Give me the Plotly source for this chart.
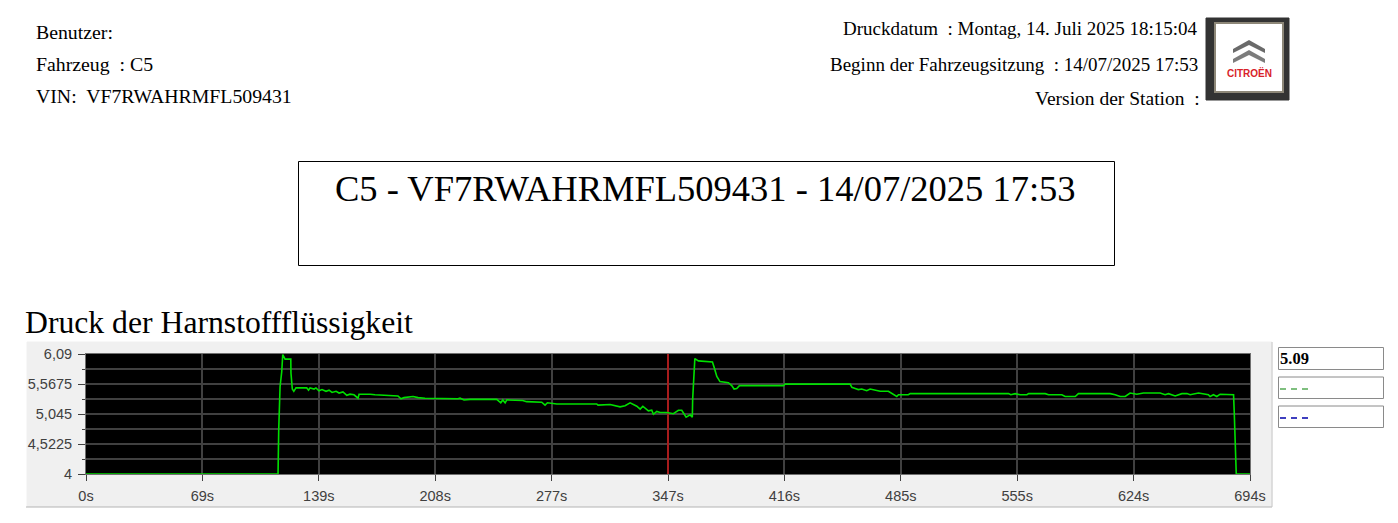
import plotly.graph_objects as go

# page body keeps its 8px margin, so the drawing area is the window minus 16
W = 1382
H = 507
OFF = 8

# pressure curve
time_s = [0, 114.5, 114.9, 115.7, 116.7, 117.3, 118.7, 122.1, 122.2, 123, 123.9, 125.2, 131.6, 132.7, 133.6, 136, 137.1,
          138.9, 140.7, 143.1, 144.9, 146.7, 149.1, 150.9, 153.2, 155.5, 157.4, 159.8, 162.2, 162.8, 169.4, 172.3,
          186, 187.8, 189.6, 195, 198, 202.1, 221.8, 223, 225.4, 229, 244.9, 247.3, 248.5, 249.9, 250.9, 260.4,
          262.7, 271.7, 273.7, 275.1, 280.7, 296.5, 304.5, 305.3, 312.5, 318.4, 321.4, 324.4, 328.4, 330.4, 332,
          335.3, 337.3, 338.3, 340.3, 342.3, 346.3, 350.2, 353.2, 355.2, 357.8, 360.2, 361.5, 361.7, 362.5, 363,
          365.1, 369.1, 373.5, 374.5, 376.1, 378, 383, 385, 386.4, 388, 389.6, 415.8, 416.8, 455.6, 456.6, 458.6,
          460.5, 462.5, 465.5, 467.5, 473.5, 478.4, 481.4, 483.4, 484.4, 490.3, 491.4, 497.3, 550, 551.4, 554, 557,
          561, 562, 571.9, 573.9, 581.8, 583.8, 589.8, 591.7, 610.6, 613.6, 616.6, 619.6, 622.5, 626.5, 630.5,
          640.4, 643.4, 645.4, 649.4, 653.4, 656.4, 658.3, 663.3, 669.2, 670.2, 672.2, 674.2, 676.2, 684.2, 684.6,
          685.2, 685.8, 694]
pressure = [4, 4, 4.76, 5.52, 5.78, 6.08, 6.0, 6.0, 5.76, 5.48, 5.44, 5.5, 5.5, 5.46, 5.5, 5.48, 5.5,
            5.45, 5.47, 5.44, 5.46, 5.42, 5.44, 5.41, 5.43, 5.37, 5.39, 5.38, 5.32, 5.39, 5.39, 5.38,
            5.36, 5.31, 5.33, 5.35, 5.33, 5.32, 5.31, 5.32, 5.29, 5.30, 5.30, 5.24, 5.29, 5.24, 5.29, 5.28,
            5.26, 5.25, 5.20, 5.24, 5.22, 5.22, 5.22, 5.20, 5.21, 5.17, 5.19, 5.24, 5.18, 5.13, 5.18,
            5.10, 5.11, 5.04, 5.09, 5.07, 5.07, 5.05, 5.11, 5.11, 4.99, 5.03, 4.99, 5.30, 5.76, 6.01,
            5.97, 5.96, 5.95, 5.86, 5.70, 5.61, 5.59, 5.54, 5.48, 5.49, 5.54, 5.54, 5.565, 5.565, 5.51, 5.49,
            5.47, 5.48, 5.45, 5.48, 5.44, 5.44, 5.39, 5.35, 5.38, 5.38, 5.40, 5.40, 5.40, 5.38, 5.40, 5.38,
            5.38, 5.40, 5.40, 5.38, 5.38, 5.35, 5.35, 5.40, 5.40, 5.38, 5.35, 5.35, 5.41, 5.39, 5.41,
            5.41, 5.38, 5.40, 5.36, 5.40, 5.40, 5.38, 5.41, 5.38, 5.35, 5.38, 5.35, 5.39, 5.38, 5.08,
            4.38, 4, 4]

x_ticks = [0, 69.4, 138.8, 208.2, 277.6, 347, 416.4, 485.8, 555.2, 624.6, 694]
x_labels = ["0s", "69s", "139s", "208s", "277s", "347s", "416s", "485s", "555s", "624s", "694s"]
y_ticks = [4, 4.5225, 5.045, 5.5675, 6.09]
y_labels = ["4", "4,5225", "5,045", "5,5675", "6,09"]
y_minor = [4.26125, 4.78375, 5.30625, 5.82875]
cursor_s = 347


def px(x):
    return (x - OFF) / W


def py(y):
    return 1 - (y - OFF) / H


def box(x0, y0, x1, y1, line="black", fill=None, width=1):
    return dict(type="rect", xref="paper", yref="paper", x0=px(x0), x1=px(x1), y0=py(y0), y1=py(y1),
                line=dict(color=line, width=width), fillcolor=fill, layer="below")


def chevron(y, colour):
    path = f"M {px(1233)} {py(y + 9)} L {px(1249)} {py(y)} L {px(1265)} {py(y + 9)} L {px(1265)} {py(y + 13)} " \
           f"L {px(1249)} {py(y + 5)} L {px(1233)} {py(y + 13)} Z"
    return dict(type="path", xref="paper", yref="paper", path=path, fillcolor=colour, line=dict(width=0))


def dashes(y, colour):
    return dict(type="line", xref="paper", yref="paper", x0=px(1280), x1=px(1308), y0=py(y), y1=py(y),
                line=dict(color=colour, width=1.5, dash="6px,5px"))


def label(x, y, text, size=19.8, anchor="left", colour="black", font="Liberation Serif"):
    return dict(xref="paper", yref="paper", x=px(x), y=py(y), text=text, showarrow=False, xanchor=anchor,
                yanchor="middle", borderpad=0, borderwidth=0, font=dict(family=font, size=size, color=colour))


fig = go.Figure()
fig.add_trace(go.Scatter(x=time_s, y=pressure, mode="lines", line=dict(color="#00e000", width=1.6),
                         cliponaxis=False, showlegend=False))

shapes = [
    box(27, 342, 1272, 506.5, line="#f0f0f0", fill="#f0f0f0"),
    box(86, 354, 1250, 474, line="black", fill="black"),
    box(298.5, 161.5, 1114.5, 265.5),
    box(1278.5, 347.5, 1383.5, 369.5, line="#8a8a8a"),
    box(1278.5, 377, 1383.5, 398.5, line="#8a8a8a"),
    box(1278.5, 406, 1383.5, 427.5, line="#8a8a8a"),
    box(1206, 18, 1289, 100, line="#333333", fill="#333333"),
    box(1215, 23, 1283, 92, line="#8d8778", fill="white", width=2),
    dict(type="line", xref="paper", yref="paper", x0=px(26), x1=px(1272), y0=py(507), y1=py(507),
         line=dict(color="#b4b4b4", width=1)),
    dict(type="line", xref="paper", yref="paper", x0=px(1272), x1=px(1272), y0=py(342), y1=py(507),
         line=dict(color="#c8c8c8", width=1)),
    dict(type="line", xref="x", yref="y", x0=cursor_s, x1=cursor_s, y0=4, y1=6.09,
         line=dict(color="#a81c1c", width=2), layer="between"),
    chevron(40, "#6a6a6a"),
    chevron(50, "#7c7c7c"),
    dashes(389, "#55aa55"),
    dashes(418, "#0000aa"),
]

annotations = [
    label(36, 32, "Benutzer:"),
    label(36, 64, "Fahrzeug  : C5"),
    label(36, 96, "VIN:  VF7RWAHRMFL509431"),
    label(1198, 29, "Druckdatum  : Montag, 14. Juli 2025 18:15:04", size=19, anchor="right"),
    label(1198, 64, "Beginn der Fahrzeugsitzung  : 14/07/2025 17:53", size=19, anchor="right"),
    label(1200, 98, "Version der Station  :", size=19.5, anchor="right"),
    label(705, 188, "C5 - VF7RWAHRMFL509431 - 14/07/2025 17:53", size=36.5, anchor="center"),
    label(25, 322, "Druck der Harnstoffflüssigkeit", size=31.7),
    label(1280, 358, "<b>5.09</b>", size=16.5),
    label(1249, 73, "<b>CITROËN</b>", size=10, anchor="center", colour="#d8222a", font="Liberation Sans"),
]

fig.update_layout(
    margin=dict(l=0, r=0, t=0, b=0),
    paper_bgcolor="white", plot_bgcolor="black", showlegend=False,
    shapes=shapes, annotations=annotations,
    font=dict(family="Liberation Sans", size=14.5, color="#404040"),
)
fig.update_xaxes(
    automargin=False, domain=[px(86), px(1250)], range=[0, 694], tickmode="array", tickvals=x_ticks,
    ticktext=x_labels, ticks="outside", ticklen=6, tickcolor="#404040", showgrid=True, gridcolor="#404040",
    gridwidth=1.5, zeroline=False, showline=True, mirror=True, linecolor="#707070", linewidth=1,
    ticklabelstandoff=3,
)
fig.update_yaxes(
    automargin=False, domain=[py(474), py(354)], range=[4, 6.09], tickmode="array", tickvals=y_ticks,
    ticktext=y_labels, ticks="outside", ticklen=7, tickcolor="#404040", showgrid=True, gridcolor="#404040",
    gridwidth=1.5,
    minor=dict(tickmode="array", tickvals=y_minor, ticks="outside", ticklen=3, tickcolor="#404040",
               showgrid=True, gridcolor="#404040", gridwidth=1.5),
    zeroline=False, showline=True, mirror=True, linecolor="#707070", linewidth=1, ticklabelstandoff=3,
)

fig.write_html("out.html", config={"displayModeBar": False})
